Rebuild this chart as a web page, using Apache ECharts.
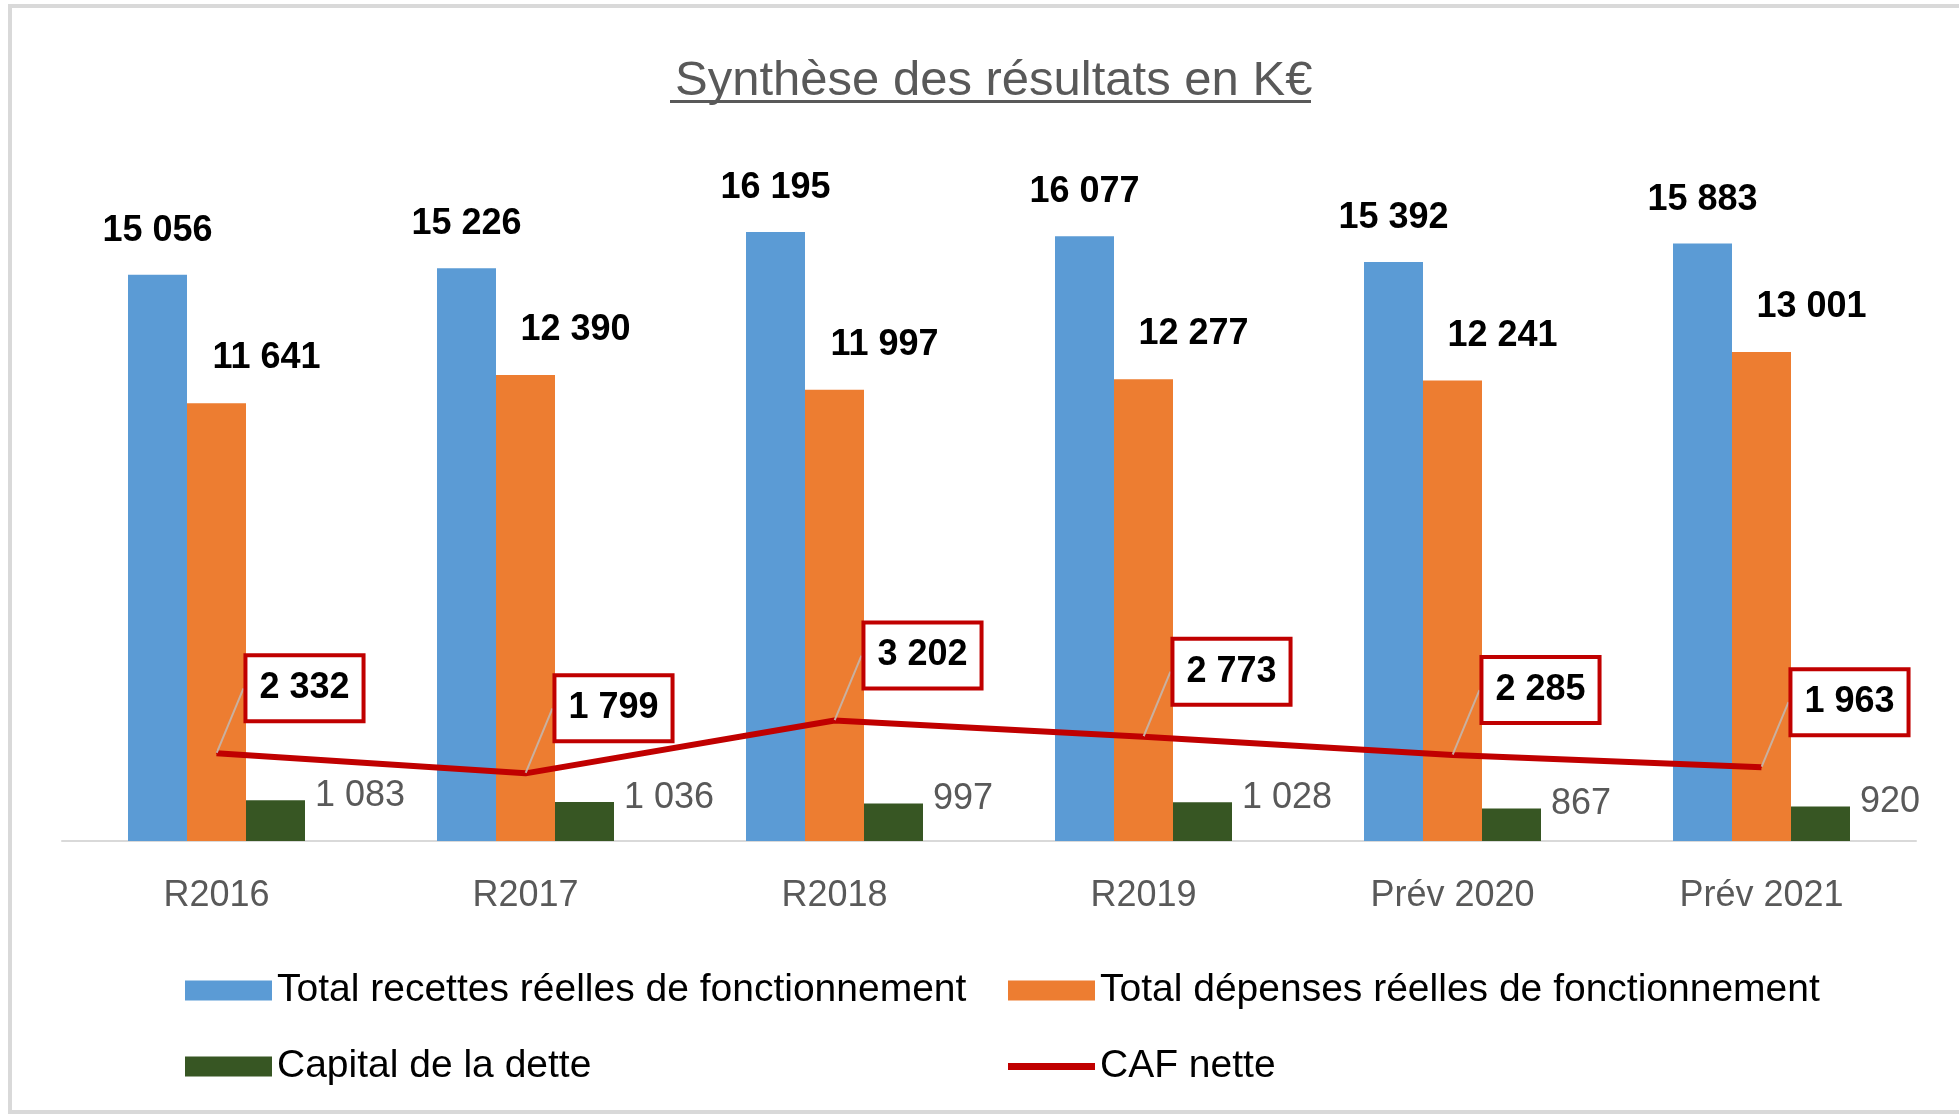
<!DOCTYPE html>
<html>
<head>
<meta charset="utf-8">
<script src="https://cdn.jsdelivr.net/npm/echarts@6/dist/echarts.min.js"></script>
<style>
html,body{margin:0;padding:0;background:#fff;}
#chart{width:1959px;height:1116px;}
</style>
</head>
<body>
<div id="chart"></div>
<script>
const categories = ['R2016', 'R2017', 'R2018', 'R2019', 'Prév 2020', 'Prév 2021'];
const recettes = [15056, 15226, 16195, 16077, 15392, 15883];
const depenses = [11641, 12390, 11997, 12277, 12241, 13001];
const capital = [1083, 1036, 997, 1028, 867, 920];
const caf = [2332, 1799, 3202, 2773, 2285, 1963];
const seriesNames = ['Total recettes réelles de fonctionnement', 'Total dépenses réelles de fonctionnement', 'Capital de la dette', 'CAF nette'];
const titleText = 'Synthèse des résultats en K€';

const FONT = "'Liberation Sans', Arial, sans-serif";
const fmt = v => String(v).replace(/\B(?=(\d{3})+(?!\d))/g, ' ');

const chart = echarts.init(document.getElementById('chart'));
chart.setOption({
  animation: false,
  backgroundColor: '#fff',
  title: {
    text: titleText,
    left: 670,
    top: 52,
    textStyle: {fontFamily: FONT, fontSize: 49, fontWeight: 'normal', color: '#595959'}
  },
  graphic: [
    {type: 'rect', shape: {x: 10, y: 6, width: 1960, height: 1106}, style: {fill: 'none', stroke: '#d9d9d9', lineWidth: 4}, silent: true},
    {type: 'rect', shape: {x: 670, y: 100, width: 641, height: 3}, style: {fill: '#595959'}, silent: true}
  ],
  legend: [
    {
      orient: 'vertical', left: 180, top: 966, itemWidth: 87, itemHeight: 20, itemGap: 37,
      icon: 'rect',
      textStyle: {fontFamily: FONT, fontSize: 39, color: '#000'},
      data: [seriesNames[0], seriesNames[2]]
    },
    {
      orient: 'vertical', left: 1003, top: 966, itemWidth: 87, itemHeight: 20, itemGap: 37,
      textStyle: {fontFamily: FONT, fontSize: 39, color: '#000'},
      data: [{name: seriesNames[1], icon: 'rect'}, {name: seriesNames[3], icon: 'path://M0,0H100V8H0Z'}]
    }
  ],
  grid: {left: 62, right: 43, top: 164, bottom: 275, containLabel: false},
  xAxis: {
    type: 'category',
    data: categories,
    axisLine: {lineStyle: {color: '#d9d9d9', width: 2}},
    axisTick: {show: false},
    axisLabel: {fontFamily: FONT, fontSize: 36, color: '#595959', margin: 37}
  },
  yAxis: {
    type: 'value', min: 0, max: 18000, interval: 2000,
    show: false, splitLine: {show: false}
  },
  series: [
    {
      name: seriesNames[0], type: 'bar', data: recettes, barWidth: 59, barGap: '0%',
      itemStyle: {color: '#5b9bd5'},
      label: {show: true, position: ['50%', 0], align: 'center', verticalAlign: 'middle', offset: [0, -44],
        formatter: p => fmt(p.value), fontFamily: FONT, fontSize: 36, fontWeight: 'bold', color: '#000'}
    },
    {
      name: seriesNames[1], type: 'bar', data: depenses, barWidth: 59,
      itemStyle: {color: '#ed7d31'},
      label: {show: true, position: ['50%', 0], align: 'center', verticalAlign: 'middle', offset: [50, -45],
        formatter: p => fmt(p.value), fontFamily: FONT, fontSize: 36, fontWeight: 'bold', color: '#000'}
    },
    {
      name: seriesNames[2], type: 'bar', data: capital, barWidth: 59,
      itemStyle: {color: '#375623'},
      label: {show: true, position: ['100%', 0], align: 'left', verticalAlign: 'middle', offset: [10, -4],
        formatter: p => fmt(p.value), fontFamily: FONT, fontSize: 36, color: '#595959'}
    },
    {
      name: seriesNames[3], type: 'line', data: caf,
      symbol: 'circle', symbolSize: 1, showSymbol: true,
      lineStyle: {color: '#c00000', width: 6},
      itemStyle: {color: '#c00000'},
      z: 5,
      label: {show: true, position: 'inside', formatter: p => fmt(p.value),
        fontFamily: FONT, fontSize: 36, fontWeight: 'bold', color: '#000',
        backgroundColor: '#fff', borderColor: '#c00000', borderWidth: 4, padding: [14, 12, 12, 12]},
      labelLayout: {dx: 88, dy: -65},
      labelLine: {show: true, lineStyle: {color: '#c8b0a0', width: 2}}
    }
  ]
});
</script>
</body>
</html>
